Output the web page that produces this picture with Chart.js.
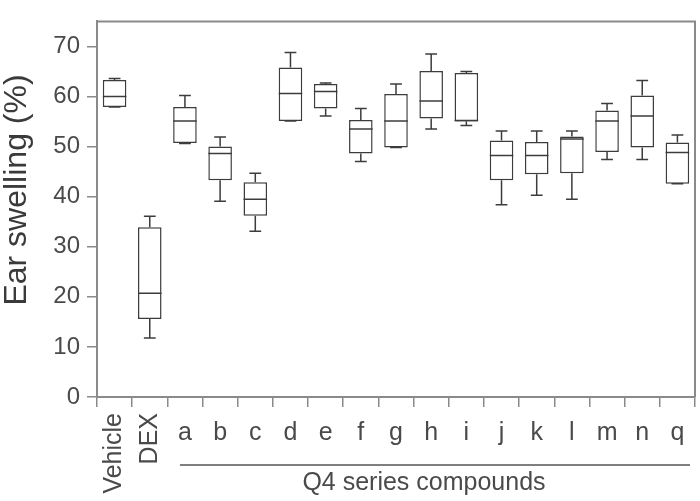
<!DOCTYPE html>
<html>
<head>
<meta charset="utf-8">
<script src="https://cdn.jsdelivr.net/npm/chart.js@4/dist/chart.umd.min.js"></script>
<style>
  html, body { margin: 0; padding: 0; background: #fff; }
  #wrap { width: 700px; height: 501px; }
</style>
</head>
<body>
<div id="wrap"><canvas id="boxChart"></canvas></div>
<script>
// groups on the x axis
const groups = ['Vehicle', 'DEX', 'a', 'b', 'c', 'd', 'e', 'f', 'g', 'h', 'i', 'j', 'k', 'l', 'm', 'n', 'q'];
const rotatedGroups = ['Vehicle', 'DEX']; // drawn vertically under the axis

// box plot statistics (ear swelling %)
const mins    = [57.9, 11.8, 50.6, 39.1, 33.1, 55.1, 56.1, 47.0, 49.8, 53.5, 54.2, 38.4, 40.3, 39.5, 47.4, 47.4, 42.6];
const q1s     = [57.9, 15.6, 50.7, 43.3, 36.2, 55.1, 57.6, 48.6, 49.8, 55.6, 55.0, 43.3, 44.5, 44.7, 48.9, 49.8, 42.6];
const medians = [60.0, 20.7, 55.1, 48.6, 39.5, 60.6, 61.0, 53.5, 55.1, 59.1, 55.2, 48.2, 48.2, 51.5, 55.1, 56.1, 48.8];
const q3s     = [63.3, 33.9, 57.9, 50.0, 42.9, 65.8, 62.5, 55.3, 60.5, 65.1, 64.7, 51.2, 50.9, 52.0, 57.2, 60.2, 50.8];
const maxs    = [63.6, 36.1, 60.2, 51.9, 44.7, 68.8, 62.7, 57.6, 62.5, 68.5, 65.0, 53.1, 53.1, 53.1, 58.6, 63.2, 52.3];

const yTicks = [0, 10, 20, 30, 40, 50, 60, 70];
const yTitle = 'Ear swelling (%)';
const groupTitle = 'Q4 series compounds';

const lineColor = '#3c3c3c';
const axisColor = '#8a8a8a';
const textColor = '#4a4a4a';
const fontFamily = '"Liberation Sans", Arial, sans-serif';

// whiskers, medians, frame and the custom labels
const boxExtras = {
    id: 'boxExtras',
    afterDatasetsDraw(chart) {
        const ctx = chart.ctx;
        const y = chart.scales.y;
        const meta = chart.getDatasetMeta(0);
        ctx.save();
        ctx.strokeStyle = lineColor;
        ctx.lineWidth = 1.5;
        meta.data.forEach(function (bar, i) {
            const half = bar.width / 2;
            const cap = bar.width / 4;
            const yMin = y.getPixelForValue(mins[i]);
            const yMax = y.getPixelForValue(maxs[i]);
            const yQ1 = y.getPixelForValue(q1s[i]);
            const yQ3 = y.getPixelForValue(q3s[i]);
            const yMed = y.getPixelForValue(medians[i]);
            ctx.beginPath();
            // median
            ctx.moveTo(bar.x - half, yMed);
            ctx.lineTo(bar.x + half, yMed);
            // upper whisker
            ctx.moveTo(bar.x, yQ3);
            ctx.lineTo(bar.x, yMax);
            ctx.moveTo(bar.x - cap, yMax);
            ctx.lineTo(bar.x + cap, yMax);
            // lower whisker
            ctx.moveTo(bar.x, yQ1);
            ctx.lineTo(bar.x, yMin);
            ctx.moveTo(bar.x - cap, yMin);
            ctx.lineTo(bar.x + cap, yMin);
            ctx.stroke();
        });
        ctx.restore();
    },
    afterDraw(chart) {
        const ctx = chart.ctx;
        const area = chart.chartArea;
        const x = chart.scales.x;
        ctx.save();
        // top and right edges of the frame
        ctx.strokeStyle = axisColor;
        ctx.lineWidth = 2;
        ctx.beginPath();
        ctx.moveTo(area.left, area.top);
        ctx.lineTo(area.right, area.top);
        ctx.lineTo(area.right, area.bottom);
        ctx.stroke();

        // y axis title
        ctx.save();
        ctx.fillStyle = '#3a3a3a';
        ctx.font = '32px ' + fontFamily;
        ctx.translate(26, 190);
        ctx.rotate(-Math.PI / 2);
        ctx.textAlign = 'center';
        ctx.textBaseline = 'alphabetic';
        ctx.fillText(yTitle, 0, 0);
        ctx.restore();

        // category labels
        ctx.fillStyle = textColor;
        ctx.font = '25px ' + fontFamily;
        groups.forEach(function (g, i) {
            const px = x.getPixelForTick(i);
            if (rotatedGroups.includes(g)) {
                ctx.save();
                ctx.translate(px, area.bottom + 16);
                ctx.rotate(-Math.PI / 2);
                ctx.textAlign = 'right';
                ctx.textBaseline = 'middle';
                ctx.fillText(g, 0, 0);
                ctx.restore();
            } else {
                ctx.textAlign = 'center';
                ctx.textBaseline = 'alphabetic';
                ctx.fillText(g, px, area.bottom + 43);
            }
        });

        // bracket line and group title under the compound labels
        const first = groups.indexOf('a');
        const xStart = x.getPixelForTick(first) - 5;
        const xEnd = area.right - 5;
        ctx.strokeStyle = '#555';
        ctx.lineWidth = 1.5;
        ctx.beginPath();
        ctx.moveTo(xStart, area.bottom + 68);
        ctx.lineTo(xEnd, area.bottom + 68);
        ctx.stroke();
        ctx.textAlign = 'center';
        ctx.textBaseline = 'alphabetic';
        ctx.fillText(groupTitle, (xStart + xEnd) / 2 - 11, area.bottom + 93);
        ctx.restore();
    }
};

const ctx = document.getElementById('boxChart').getContext('2d');
new Chart(ctx, {
    type: 'bar',
    data: {
        labels: groups,
        datasets: [{
            label: 'Ear swelling',
            data: groups.map((g, i) => [q1s[i], q3s[i]]),
            backgroundColor: '#ffffff',
            borderColor: lineColor,
            borderWidth: 1.5,
            borderSkipped: false,
            barPercentage: 0.67,
            categoryPercentage: 1.0
        }]
    },
    options: {
        responsive: true,
        maintainAspectRatio: false,
        animation: false,
        layout: { padding: { top: 4, right: 5, left: 0, bottom: 0 } },
        plugins: {
            legend: { display: false },
            tooltip: { enabled: false }
        },
        scales: {
            x: {
                grid: {
                    drawOnChartArea: false,
                    drawTicks: true,
                    tickLength: 10,
                    color: axisColor,
                    lineWidth: 1.5
                },
                border: { display: true, color: axisColor, width: 2 },
                ticks: { display: false },
                afterFit(scale) { scale.height = 104; }
            },
            y: {
                min: 0,
                max: 75,
                afterBuildTicks(scale) {
                    scale.ticks = yTicks.map(v => ({ value: v }));
                },
                grid: {
                    drawOnChartArea: false,
                    drawTicks: true,
                    tickLength: 10,
                    color: axisColor,
                    lineWidth: 1.5
                },
                border: { display: true, color: axisColor, width: 2 },
                ticks: {
                    color: textColor,
                    padding: 7,
                    font: { family: fontFamily, size: 24 }
                },
                afterFit(scale) { scale.width = 97; }
            }
        }
    },
    plugins: [boxExtras]
});
</script>
</body>
</html>
